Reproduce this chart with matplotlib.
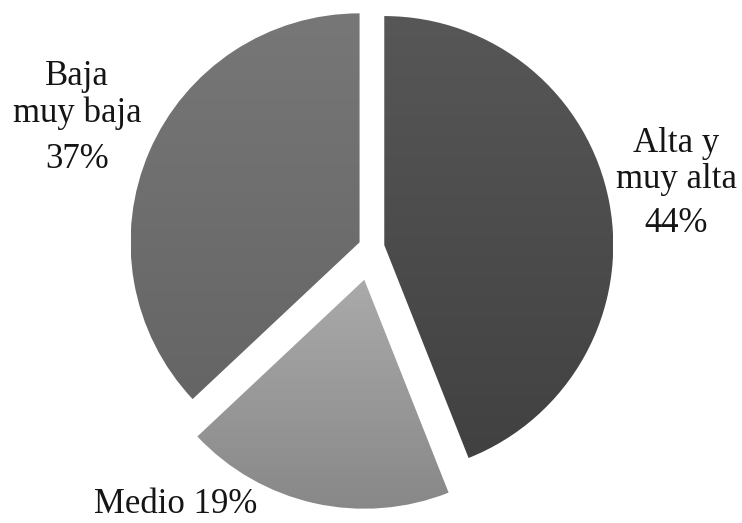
import matplotlib.pyplot as plt
import matplotlib.colors as mcolors
import numpy as np

# data
labels = ['Alta y muy alta', 'Medio', 'Baja muy baja']
shares = [44, 19, 37]
explode_px = [13, 33, 13]
# gradient top -> bottom for every slice
grad_top = ['#575757', '#aaaaaa', '#777777']
grad_bottom = ['#414141', '#888888', '#656565']

W, H = 742, 523
fig = plt.figure(figsize=(W / 100, H / 100), dpi=100)
ax = fig.add_axes([0, 0, 1, 1])

R = 229
cx, cy = 371.5, H - 247.5
wedges, _ = ax.pie(shares, radius=R, center=(cx, cy), startangle=90,
                   counterclock=False, explode=explode_px,
                   wedgeprops=dict(linewidth=0, facecolor='none'), frame=True)
ax.set_xlim(0, W)
ax.set_ylim(0, H)
ax.set_aspect('equal')
ax.axis('off')

# vertical gradient inside each slice, spanning the slice's own height
for w, top, bot in zip(wedges, grad_top, grad_bottom):
    c1 = np.array(mcolors.to_rgb(top))
    c2 = np.array(mcolors.to_rgb(bot))
    t = np.linspace(0, 1, 256)[:, None]
    img = (c1 * (1 - t) + c2 * t)[:, None, :]
    ext = w.get_path().get_extents(w.get_patch_transform())
    im = ax.imshow(img, extent=[ext.x0, ext.x1, ext.y0, ext.y1],
                   origin='upper', aspect='auto', zorder=1)
    im.set_clip_path(w)

ax.set_xlim(0, W)
ax.set_ylim(0, H)

txt = dict(family='Liberation Serif', fontsize=25, color='#151515',
           ha='center', va='baseline')
ax.text(77, H - 85, 'Baja', **txt)
ax.text(77, H - 122, 'muy baja', **txt)
ax.text(77, H - 168, '37%', **txt)
ax.text(676, H - 152, 'Alta y', **txt)
ax.text(676, H - 188, 'muy alta', **txt)
ax.text(676, H - 232, '44%', **txt)
ax.text(176, H - 513, 'Medio 19%', **txt)

fig.savefig('out.png', dpi=100)
